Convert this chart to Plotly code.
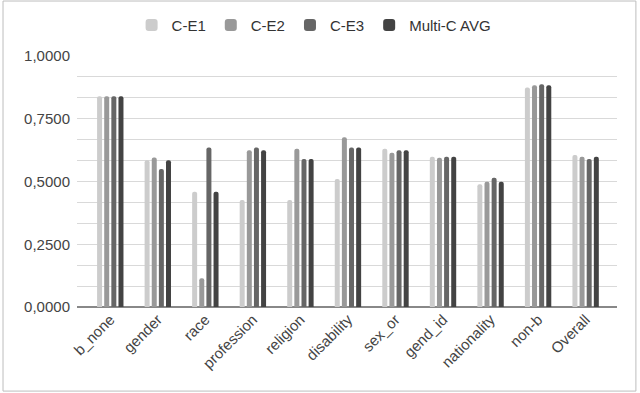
import plotly.graph_objects as go

categories = ['b_none', 'gender', 'race', 'profession', 'religion', 'disability',
              'sex_or', 'gend_id', 'nationality', 'non-b', 'Overall']

ce1 = [0.840, 0.585, 0.459, 0.426, 0.426, 0.510, 0.630, 0.599, 0.489, 0.875, 0.606]
ce2 = [0.840, 0.596, 0.115, 0.625, 0.630, 0.676, 0.615, 0.595, 0.499, 0.883, 0.599]
ce3 = [0.840, 0.550, 0.635, 0.635, 0.590, 0.635, 0.625, 0.599, 0.515, 0.887, 0.590]
multi_avg = [0.840, 0.585, 0.459, 0.625, 0.590, 0.635, 0.625, 0.599, 0.499, 0.883, 0.599]

series = [
    ('C-E1', ce1, '#cccccc'),
    ('C-E2', ce2, '#999999'),
    ('C-E3', ce3, '#666666'),
    ('Multi-C AVG', multi_avg, '#434343'),
]

fig = go.Figure()
for name, vals, color in series:
    fig.add_trace(go.Bar(
        x=categories, y=vals, name=name,
        marker=dict(color=color, line=dict(width=0), cornerradius=2),
    ))

# outer chart frame
fig.add_shape(type='rect', xref='paper', yref='paper',
              x0=-0.137, x1=1.035, y0=-0.335, y1=1.219,
              line=dict(color='#bdbdbd', width=1), layer='below')

fig.update_layout(
    width=640, height=393,
    margin=dict(l=77, r=23, t=56, b=86, autoexpand=False),
    paper_bgcolor='white', plot_bgcolor='white',
    font=dict(family='Liberation Sans, Arial, sans-serif', size=15, color='#444444'),
    separators=',.',
    barmode='group', bargap=0.4, bargroupgap=0.3,
    showlegend=True,
    legend=dict(orientation='h', xref='container', x=0.49, xanchor='center',
                yref='container', y=0.936, yanchor='middle',
                font=dict(size=15, color='#333333'), itemwidth=30,
                bgcolor='rgba(0,0,0,0)'),
)

fig.update_xaxes(
    range=[-0.7, 10.66], tickangle=-45, showgrid=False, automargin=False,
    tickfont=dict(size=15, color='#444444'),
    showline=False, ticks='',
)
fig.update_yaxes(
    range=[0, 1.0], dtick=0.25, tickformat='.4f', automargin=False,
    tickfont=dict(size=15, color='#444444'),
    gridcolor='#d9d9d9', gridwidth=1,
    minor=dict(dtick=0.25 / 3, showgrid=True, gridcolor='#d9d9d9', gridwidth=1),
    zeroline=True, zerolinecolor='#888888', zerolinewidth=2,
    ticks='', ticklabelstandoff=6,
)

# drop the default page margin so the figure sits at the window's origin
fig.write_html("out.html", config={'displayModeBar': False},
               post_script="document.body.style.margin='0';")
